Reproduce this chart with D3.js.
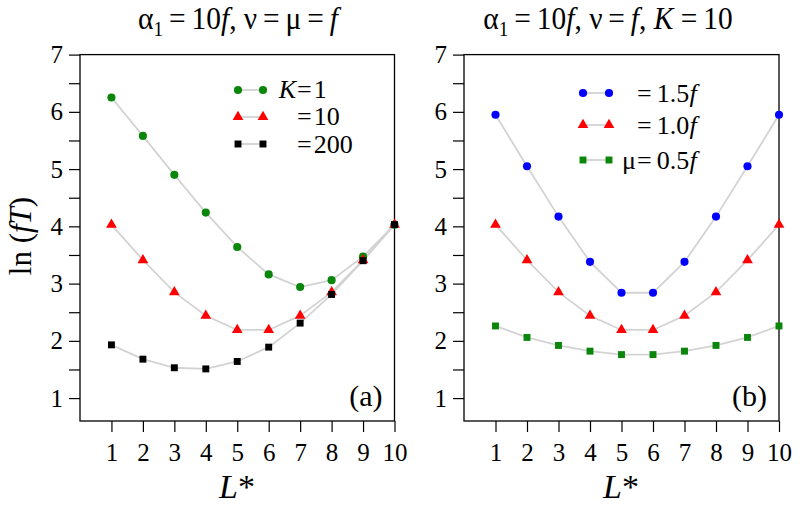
<!DOCTYPE html>
<html><head><meta charset="utf-8">
<script src="https://cdn.jsdelivr.net/npm/d3@7"></script>
<style>
body{margin:0;background:#fff;}
</style></head>
<body><svg id="c" width="800" height="506"></svg>
<script>
const xVals = [1,2,3,4,5,6,7,8,9,10];
const yMajor = [1,2,3,4,5,6,7];
const yMinor = [1.5,2.5,3.5,4.5,5.5,6.5];
// Panel (a): alpha1=10f, nu=mu=f
const aK1   = [6.25,5.58,4.90,4.24,3.64,3.16,2.94,3.06,3.47,4.03];
const aK10  = [4.03,3.41,2.85,2.44,2.19,2.19,2.44,2.85,3.41,4.03];
const aK200 = [1.93,1.68,1.53,1.51,1.64,1.89,2.31,2.81,3.40,4.03];
// Panel (b): alpha1=10f, nu=f, K=10
const bMu15 = [5.95,5.05,4.17,3.38,2.84,2.84,3.38,4.17,5.05,5.95];
const bMu10 = [4.03,3.41,2.85,2.44,2.19,2.19,2.44,2.85,3.41,4.03];
const bMu05 = [2.26,2.06,1.92,1.82,1.76,1.76,1.82,1.92,2.06,2.26];

const FONT = '"Liberation Serif", "Times New Roman", Times, serif';
const svg = d3.select("#c");
const plotTop = 54.6, plotBottom = 421;
const y = d3.scaleLinear().domain([0.6,7]).range([plotBottom, plotTop]);

function panel(x0, x1, series, label){
  const x = d3.scaleLinear().domain([0,10]).range([x0, x1]);
  const g = svg.append("g");
  g.append("rect").attr("x",x0).attr("y",plotTop).attr("width",x1-x0).attr("height",plotBottom-plotTop)
    .attr("fill","none").attr("stroke","#000").attr("stroke-width",1.3);
  const ya = g.append("g").attr("transform",`translate(${x0},0)`)
    .call(d3.axisLeft(y).tickValues(yMajor).tickSize(11).tickPadding(6).tickFormat(d3.format("d")));
  ya.select(".domain").remove();
  ya.selectAll("text").style("font-size","25px");
  ya.selectAll("line").attr("stroke-width",1.2);
  const ym = g.append("g").attr("transform",`translate(${x0},0)`)
    .call(d3.axisLeft(y).tickValues(yMinor).tickSize(11).tickFormat(""));
  ym.select(".domain").remove();
  ym.selectAll("line").attr("stroke-width",1.2);
  const xa = g.append("g").attr("transform",`translate(0,${plotBottom})`)
    .call(d3.axisBottom(x).tickValues(xVals).tickSize(11).tickPadding(11).tickFormat(d3.format("d")));
  xa.select(".domain").remove();
  xa.selectAll("text").style("font-size","25px");
  xa.selectAll("line").attr("stroke-width",1.2);
  const line = d3.line().x((d,i)=>x(xVals[i])).y(d=>y(d));
  series.forEach(s=>{
    g.append("path").datum(s.v).attr("d",line).attr("fill","none")
      .attr("stroke","#d3d3d3").attr("stroke-width",1.8);
  });
  series.forEach(s=>{
    g.selectAll(null).data(s.v).enter().append("path")
      .attr("transform",(d,i)=>`translate(${x(xVals[i])},${y(d)})`)
      .attr("d",d3.symbol().type(s.sym).size(s.size)).attr("fill",s.color);
  });
  g.append("text").attr("x",x1-12).attr("y",406).attr("text-anchor","end")
    .style("font-size","30px").text(label);
  return x;
}

const sA = [
  {v:aK1,color:"#0a870a",sym:d3.symbolCircle,size:52},
  {v:aK10,color:"#ff0000",sym:d3.symbolTriangle,size:50},
  {v:aK200,color:"#000000",sym:d3.symbolSquare,size:48}
];
const sB = [
  {v:bMu15,color:"#0000ff",sym:d3.symbolCircle,size:52},
  {v:bMu10,color:"#ff0000",sym:d3.symbolTriangle,size:50},
  {v:bMu05,color:"#0a870a",sym:d3.symbolSquare,size:48}
];
panel(80, 394.5, sA, "(a)");
panel(464, 779, sB, "(b)");

function legend(xa, xb, rows, items){
  items.forEach((it,i)=>{
    const yy = rows[i];
    svg.append("line").attr("x1",xa).attr("x2",xb).attr("y1",yy).attr("y2",yy)
      .attr("stroke","#d3d3d3").attr("stroke-width",1.8);
    [xa,xb].forEach(xx=>svg.append("path").attr("transform",`translate(${xx},${yy})`)
      .attr("d",d3.symbol().type(it.sym).size(it.size)).attr("fill",it.color));
  });
}
legend(238, 263, [90,117,144], sA);
legend(583, 609, [93,125,160], sB);

const fs = "26px";
function t(x,yy,anchor){return svg.append("text").attr("x",x).attr("y",yy).attr("text-anchor",anchor).style("font-size",fs);}
t(296,98,"end").append("tspan").style("font-style","italic").text("K");
t(297,98,"start").text("=\u200A1");
t(297,125,"start").text("=\u200A10");
t(297,153,"start").text("=\u200A200");
let tt;
tt = t(637,102,"start"); tt.append("tspan").text("=\u20091.5"); tt.append("tspan").style("font-style","italic").text("f");
tt = t(637,134,"start"); tt.append("tspan").text("=\u20091.0"); tt.append("tspan").style("font-style","italic").text("f");
t(636,169,"end").text("μ");
tt = t(637,169,"start"); tt.append("tspan").text("=\u20090.5"); tt.append("tspan").style("font-style","italic").text("f");

function title(cx, parts){
  const tx = svg.append("g").attr("transform",`translate(${cx},29) scale(0.92,1)`)
    .append("text").attr("x",0).attr("y",0).attr("text-anchor","middle").style("font-size","32px");
  parts.forEach(p=>{
    const s = tx.append("tspan").text(p.t);
    if(p.i) s.style("font-style","italic");
    if(p.sub) s.attr("dy",7).style("font-size","21px");
    if(p.up) s.attr("dy",-7);
  });
}
const S = "\u2009";
title(238, [{t:"α"},{t:"1",sub:true},{t:S+"="+S+"10",up:true},{t:"f",i:true},{t:", ν"+S+"="+S+"μ"+S+"="+S},{t:"f",i:true}]);
title(608, [{t:"α"},{t:"1",sub:true},{t:S+"="+S+"10",up:true},{t:"f",i:true},{t:", ν"+S+"="+S},{t:"f",i:true},{t:", "},{t:"K",i:true},{t:" ="+S+"10"}]);

[237, 621].forEach(cx=>{
  const l = svg.append("text").attr("x",cx).attr("y",498).attr("text-anchor","middle").style("font-size","34px");
  l.append("tspan").style("font-style","italic").text("L");
  l.append("tspan").text("*");
});
const yl = svg.append("text").attr("transform","translate(31,236) rotate(-90)").attr("text-anchor","middle").style("font-size","31px");
yl.append("tspan").text("ln (");
yl.append("tspan").style("font-style","italic").text("fT");
yl.append("tspan").text(")");

svg.selectAll("text").style("font-family", FONT).attr("fill","#000");
svg.selectAll("g").attr("font-family", null);
</script></body></html>
